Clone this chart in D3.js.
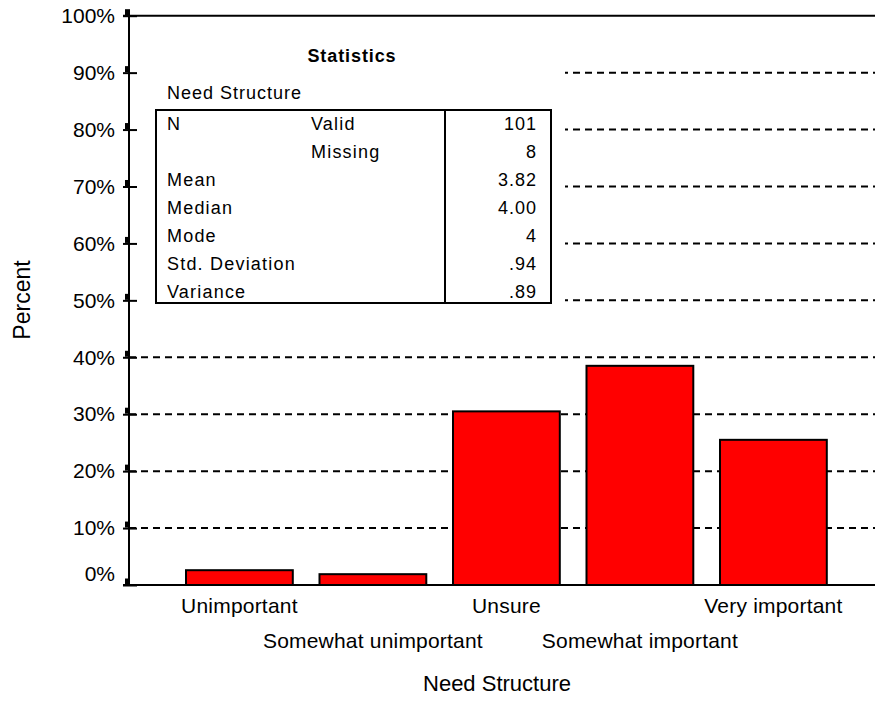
<!DOCTYPE html>
<html><head><meta charset="utf-8">
<script src="https://cdn.jsdelivr.net/npm/d3@7"></script>
<style>body{margin:0;background:#fff}svg{display:block}text{font-family:"Liberation Sans",Arial,sans-serif;fill:#000}</style>
</head><body>
<script>
const categories = ["Unimportant","Somewhat unimportant","Unsure","Somewhat important","Very important"];
const percents = [2.6, 1.9, 30.5, 38.5, 25.5];
const yTicks = [0,10,20,30,40,50,60,70,80,90,100];
const statRows = [["N","Valid","101"],["","Missing","8"],["Mean","","3.82"],["Median","","4.00"],["Mode","","4"],["Std. Deviation","",".94"],["Variance","",".89"]];
const tableTitle = "Statistics";
const tableVar = "Need Structure";
const xTitle = "Need Structure";
const yTitle = "Percent";

const W=875,H=722;
const svg=d3.select("body").append("svg").attr("width",W).attr("height",H);
const axX=129, right=875;
const y=d3.scaleLinear().domain([0,100]).range([585,15.7]);
const x=d3.scaleBand().domain(categories).range([186,826.8]).paddingInner(0.2).paddingOuter(0);

// grid lines
svg.append("g").selectAll("line").data(yTicks.filter(d=>d>0&&d<100)).join("line")
  .attr("x1",axX).attr("x2",right).attr("y1",d=>y(d)).attr("y2",d=>y(d))
  .attr("stroke","#000").attr("stroke-width",2).attr("stroke-dasharray","7,5");

// white panel behind the stats table
svg.append("rect").attr("x",axX+1).attr("y",24).attr("width",435).attr("height",286).attr("fill","#fff");

// bars
svg.append("g").selectAll("rect").data(percents).join("rect")
  .attr("x",(d,i)=>x(categories[i])).attr("width",x.bandwidth())
  .attr("y",d=>y(d)).attr("height",d=>y(0)-y(d))
  .attr("fill","#ff0000").attr("stroke","#000").attr("stroke-width",2);

// frame lines
svg.append("line").attr("x1",123).attr("x2",right).attr("y1",y(100)).attr("y2",y(100)).attr("stroke","#000").attr("stroke-width",2);
svg.append("line").attr("x1",123).attr("x2",right).attr("y1",y(0)).attr("y2",y(0)).attr("stroke","#000").attr("stroke-width",2);
svg.append("line").attr("x1",axX).attr("x2",axX).attr("y1",y(100)).attr("y2",y(0)).attr("stroke","#000").attr("stroke-width",2);

// y axis ticks
const yAxis=d3.axisLeft(y).tickValues(yTicks).tickFormat(d=>d+"%").tickSize(0).tickPadding(14);
const ga=svg.append("g").attr("transform",`translate(${axX},0)`).call(yAxis);
ga.select(".domain").remove();
ga.selectAll("text").style("font-size","21px").attr("dy",(d)=>d===0?"-0.2em":"0.32em");
ga.selectAll(".tick").append("line").attr("x1",-6).attr("x2",8).attr("stroke","#000").attr("stroke-width",2);
ga.selectAll(".tick").append("rect").attr("x",-4).attr("y",-7).attr("width",5).attr("height",6).attr("fill","#000");

// x labels
svg.append("g").selectAll("text").data(categories).join("text")
  .attr("x",d=>x(d)+x.bandwidth()/2).attr("y",(d,i)=>i%2===0?613:648)
  .attr("text-anchor","middle").style("font-size","21px").style("letter-spacing","0.2px").text(d=>d);

// axis titles
svg.append("text").attr("x",497).attr("y",691).attr("text-anchor","middle").style("font-size","22px").text(xTitle);
svg.append("text").attr("transform","translate(30,300) rotate(-90)").attr("text-anchor","middle").style("font-size","23px").text(yTitle);

// stats table
const tb=svg.append("g");
tb.append("text").attr("x",352).attr("y",62).attr("text-anchor","middle").style("font-size","18px").style("letter-spacing","0.9px").style("font-weight","bold").text(tableTitle);
tb.append("text").attr("x",167).attr("y",99).style("font-size","18px").style("letter-spacing","1px").text(tableVar);
tb.append("rect").attr("x",156).attr("y",110).attr("width",395).attr("height",193).attr("fill","none").attr("stroke","#000").attr("stroke-width",2);
tb.append("line").attr("x1",445).attr("x2",445).attr("y1",110).attr("y2",303).attr("stroke","#000").attr("stroke-width",2);
const rows=tb.selectAll("g.r").data(statRows).join("g").attr("transform",(d,i)=>`translate(0,${130+i*28})`);
rows.append("text").attr("x",167).style("font-size","18px").style("letter-spacing","1.2px").text(d=>d[0]);
rows.append("text").attr("x",311).style("font-size","18px").style("letter-spacing","1.2px").text(d=>d[1]);
rows.append("text").attr("x",537).attr("text-anchor","end").style("font-size","18px").style("letter-spacing","1px").text(d=>d[2]);
</script>
</body></html>
